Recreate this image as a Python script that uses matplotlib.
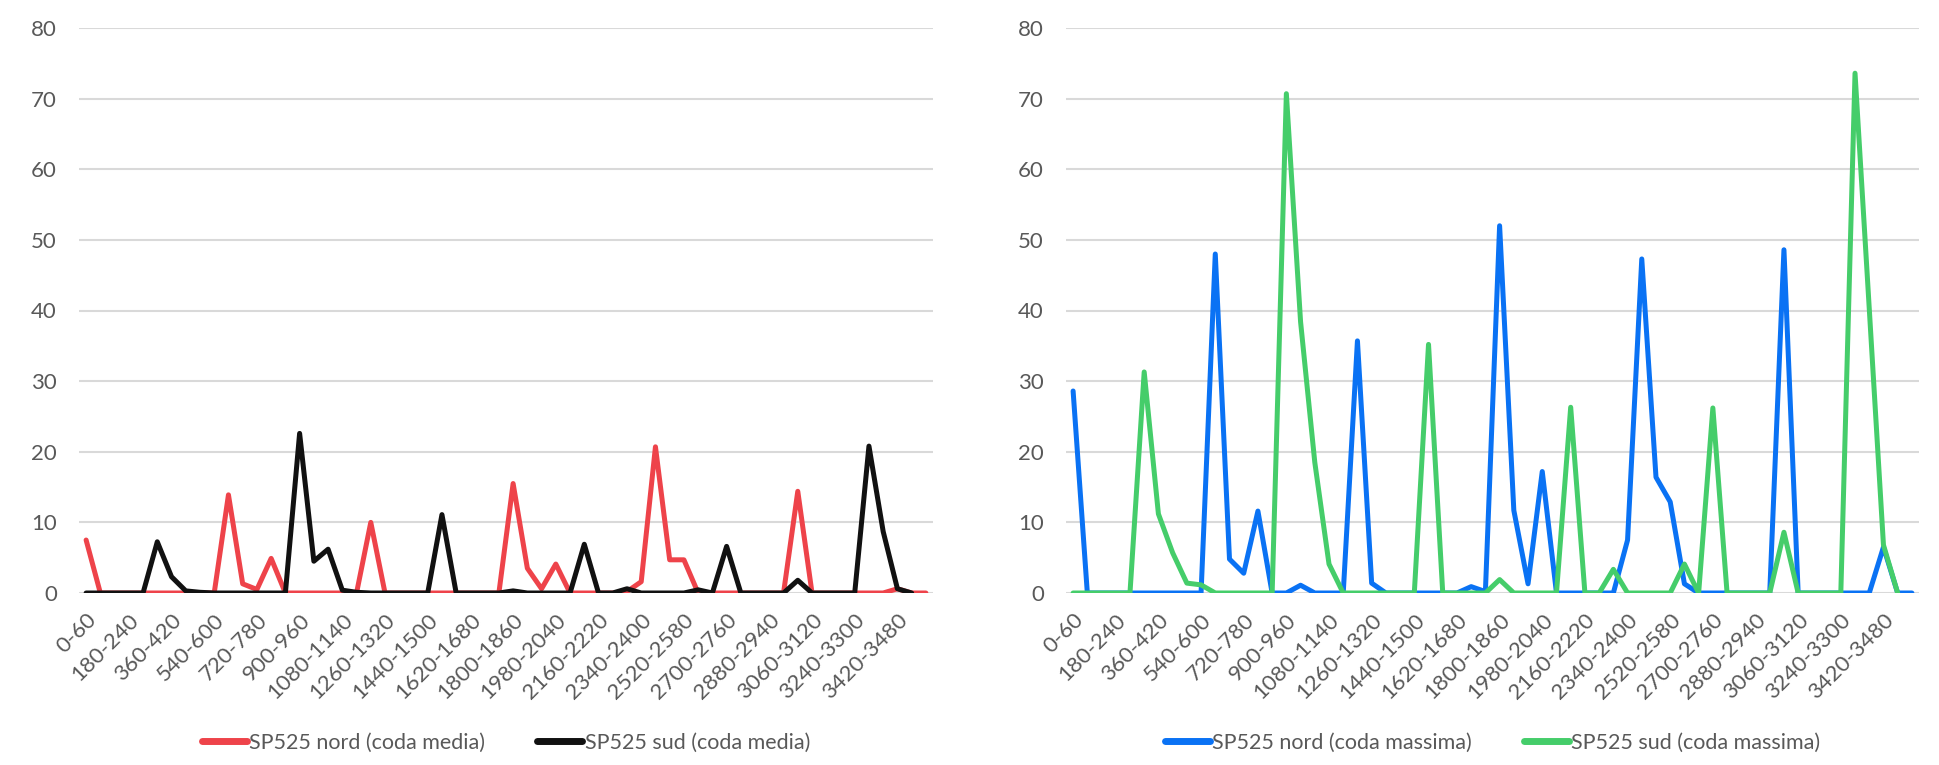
import numpy as np
import matplotlib
matplotlib.use("Agg")
import matplotlib.pyplot as plt

plt.rcParams['font.family'] = ['Lato', 'DejaVu Sans']

# Time bins (seconds), 60 s wide, 0-60 ... 3540-3600
bins = [f"{s}-{s + 60}" for s in range(0, 3600, 60)]

nan = np.nan
nord_media = [7.5, 0, 0, 0, 0, 0, 0, 0, 0, 0,
              13.9, 1.3, 0.5, 4.9, 0, 0, 0, 0, 0, 0,
              10.0, 0, 0, 0, 0, 0, 0, 0, 0, 0,
              15.5, 3.5, 0.6, 4.1, 0, 0, 0, 0, 0.2, 1.6,
              20.7, 4.7, 4.7, 0, 0, 0, 0, 0, 0, 0,
              14.4, 0, 0, 0, 0, 0, 0, 0.6, 0, 0]
sud_media = [0, 0, 0, 0, 0, 7.25, 2.3, 0.3, 0.1, 0,
             0, 0, 0, 0, 0, 22.6, 4.5, 6.2, 0.4, 0.1,
             0, 0, 0, 0, 0, 11.1, 0, 0, 0, 0,
             0.3, 0, 0, 0, 0, 6.9, 0, 0, 0.6, 0,
             0, 0, 0, 0.45, 0, 6.6, 0, 0, 0, 0,
             1.8, 0, 0, 0, 0, 20.8, 8.7, 0.6, 0, nan]
nord_massima = [28.6, 0, 0, 0, 0, 0, 0, 0, 0, 0,
                48.0, 4.8, 2.8, 11.6, 0, 0, 1.1, 0, 0, 0,
                35.7, 1.4, 0, 0, 0, 0, 0, 0, 0.9, 0.2,
                52.0, 11.7, 1.3, 17.2, 0, 0, 0, 0, 0, 7.5,
                47.3, 16.4, 12.9, 1.3, 0, 0, 0, 0, 0, 0,
                48.6, 0, 0, 0, 0, 0, 0, 6.5, 0, 0]
sud_massima = [0, 0, 0, 0, 0, 31.3, 11.2, 5.7, 1.4, 1.15,
               0, 0, 0, 0, 0, 70.7, 38.4, 18.5, 4.1, 0,
               0, 0, 0, 0, 0, 35.2, 0, 0, 0, 0,
               1.9, 0, 0, 0, 0, 26.3, 0, 0, 3.35, 0,
               0, 0, 0, 4.1, 0, 26.2, 0, 0, 0, 0,
               8.6, 0, 0, 0, 0, 73.6, 40.3, 6.8, 0, nan]

panels = [
    [("SP525 nord (coda media)", nord_media, "#EE434A"),
     ("SP525 sud (coda media)", sud_media, "#111111")],
    [("SP525 nord (coda massima)", nord_massima, "#0A72F4"),
     ("SP525 sud (coda massima)", sud_massima, "#45CD6A")],
]

W, H = 1939, 765
fig = plt.figure(figsize=(W / 100, H / 100), dpi=100)
fig.patch.set_facecolor("white")

grid_col = "#D9D9D9"
text_col = "#595959"
axes_px = [(79, 933), (1066, 1919)]
y_top, y_bot = 28.0, 593

x = np.arange(len(bins))
for (x0, x1), series in zip(axes_px, panels):
    ax = fig.add_axes([x0 / W, (H - y_bot) / H, (x1 - x0) / W, (y_bot - y_top) / H])
    for label, vals, col in series:
        ax.plot(x, vals, color=col, lw=3.6, label=label,
                solid_capstyle="round", solid_joinstyle="round", zorder=3)
    ax.set_xlim(-0.5, len(bins) - 0.5)
    ax.set_ylim(0, 80)
    ax.set_yticks(range(0, 81, 10))
    ax.grid(axis="y", color=grid_col, lw=1.5, zorder=0)
    ax.set_axisbelow(True)
    for s in ax.spines.values():
        s.set_visible(False)
    ax.tick_params(axis="y", length=0, pad=16, labelsize=16, labelcolor=text_col)
    ax.tick_params(axis="x", length=0, pad=12, labelsize=16, labelcolor=text_col)
    ax.set_xticks(x[::3])
    ax.set_xticklabels(bins[::3], rotation=45, ha="right", rotation_mode="anchor")
    leg = ax.legend(loc="center", bbox_to_anchor=(0.5, (H - 743 - (H - y_bot)) / (y_bot - y_top)),
                    ncol=2, frameon=False, fontsize=15.5, handlelength=2.1,
                    handletextpad=0.1, columnspacing=2.4)
    for t in leg.get_texts():
        t.set_color(text_col)
    for h in leg.get_lines():
        h.set_linewidth(5)
        h.set_solid_capstyle("round")

fig.savefig("out.png", dpi=100, facecolor="white")
